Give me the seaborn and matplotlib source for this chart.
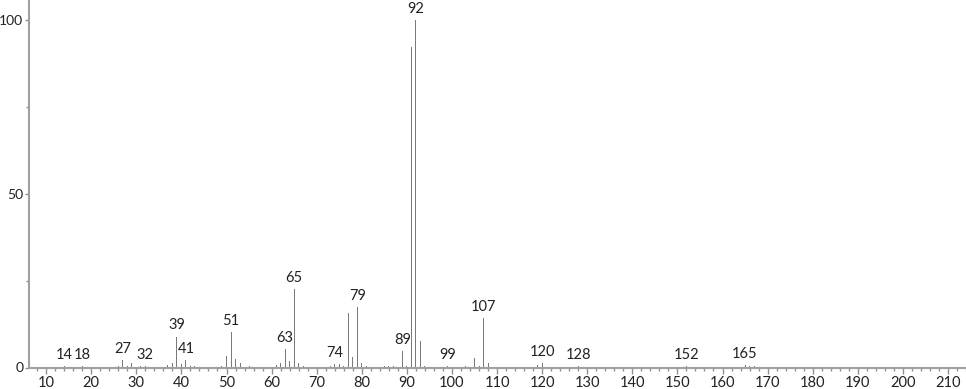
import numpy as np
import pandas as pd
import seaborn as sns
import matplotlib.pyplot as plt
from matplotlib.ticker import MultipleLocator, FixedLocator

# m/z values and relative intensities
mz = [14, 15, 18, 26, 27, 28, 29, 31, 32, 37, 38, 39, 40, 41, 42, 43, 49, 50,
      51, 52, 53, 55, 61, 62, 63, 64, 65, 66, 67, 73, 74, 75, 76, 77, 78, 79,
      80, 81, 85, 86, 87, 89, 90, 91, 92, 93, 94, 99, 103, 104, 105, 106, 107,
      108, 115, 119, 120, 127, 128, 152, 165, 166, 167]
intensity = [0.3, 0.2, 0.3, 0.5, 2.2, 0.4, 1.4, 0.3, 0.3, 0.8, 1.4, 8.9, 1.0,
             2.2, 0.3, 0.3, 0.3, 3.3, 10.3, 2.4, 1.4, 0.3, 0.6, 1.4, 5.2, 1.9,
             22.6, 1.4, 0.3, 0.3, 1.0, 1.0, 0.4, 15.7, 3.1, 17.4, 1.4, 0.3, 0.3,
             0.5, 0.5, 4.7, 0.5, 92.4, 100.0, 7.6, 0.5, 0.4, 0.3, 0.2, 2.8, 0.4,
             14.3, 1.4, 0.2, 0.8, 1.2, 0.2, 0.4, 0.3, 0.7, 0.4, 0.3]
labeled_mz = [14, 18, 27, 32, 39, 41, 51, 63, 65, 74, 79, 89, 92, 99, 107,
              120, 128, 152, 165]
x_ticks = [10, 20, 30, 40, 50, 60, 70, 80, 90, 100, 110, 120, 130, 140, 150,
           160, 170, 180, 190, 200, 210]
y_ticks = [0, 50, 100]

sns.set_theme(style="white")
plt.rcParams['font.family'] = ['Lato', 'DejaVu Sans']

W, H = 966, 389
fig = plt.figure(figsize=(W / 100, H / 100), dpi=100)
left_px, base_px = 29, 367.5
ax = fig.add_axes([left_px / W, (H - base_px) / H, 1 - left_px / W, base_px / H])

df = pd.DataFrame({"mz": mz, "intensity": intensity})
sns.barplot(data=df, x="mz", y="intensity", native_scale=True, width=0.22,
            color="#7a7a7a", saturation=1, linewidth=0, errorbar=None, ax=ax)

for m in labeled_mz:
    v = intensity[mz.index(m)]
    ax.annotate(str(m), (m, v), xytext=(0, 3), textcoords="offset points",
                ha="center", va="bottom", fontsize=10.5, color="#222222")

ax.set_xlim(6.2, 214)
ax.set_ylim(0, 105.9)
ax.xaxis.set_major_locator(FixedLocator(x_ticks))
ax.xaxis.set_minor_locator(MultipleLocator(2))
ax.yaxis.set_major_locator(FixedLocator(y_ticks))
ax.yaxis.set_minor_locator(MultipleLocator(25))
ax.set_xticklabels([str(t) for t in x_ticks])
ax.set_yticklabels([str(t) for t in y_ticks])
ax.set_xlabel("")
ax.set_ylabel("")

for s in ["top", "right"]:
    ax.spines[s].set_visible(False)
for s in ["left", "bottom"]:
    ax.spines[s].set_color("#a0a0a0")
    ax.spines[s].set_linewidth(1.5)

ax.tick_params(axis="x", which="major", direction="out", length=4, width=1,
               color="#909090", labelsize=10.5, labelcolor="#222222", pad=2)
ax.tick_params(axis="y", which="major", direction="out", length=3, width=1,
               color="#909090", labelsize=10, labelcolor="#222222", pad=1)
ax.tick_params(axis="both", which="minor", direction="out", length=2.5, width=1,
               color="#909090")
ax.tick_params(axis="x", which="both", bottom=True)
ax.tick_params(axis="y", which="both", left=True)

fig.savefig("out.png", dpi=100)
